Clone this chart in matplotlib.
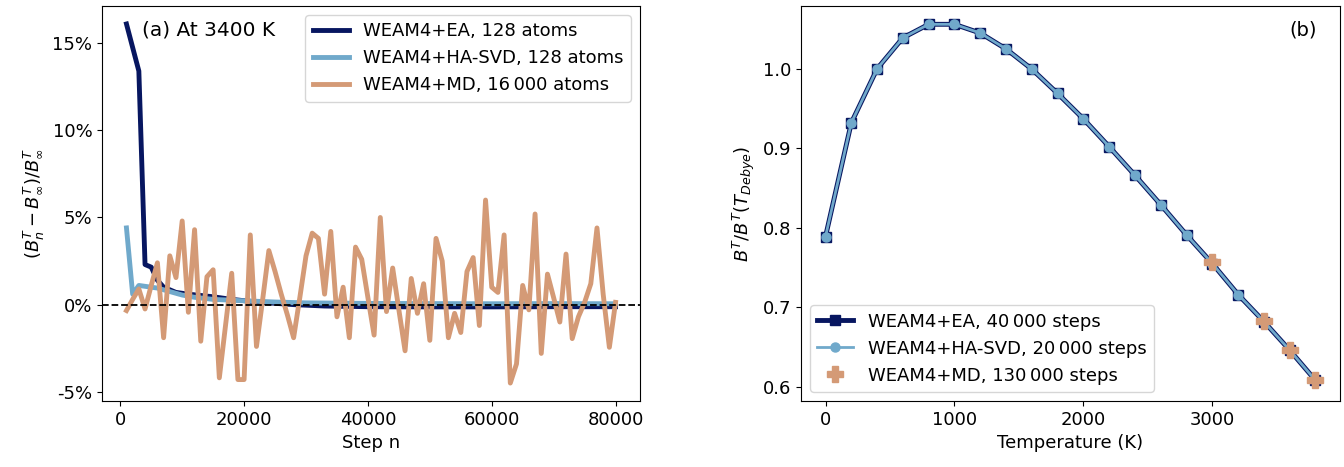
import matplotlib
matplotlib.use("Agg")
import matplotlib.pyplot as plt
import numpy as np
from matplotlib.ticker import FuncFormatter, MultipleLocator

# (a) convergence at 3400 K, values in percent
ea_steps = [1000, 3000, 4000, 5000, 6000, 7000, 9000, 11000, 15000, 18000,
            22000, 28000, 33000, 40000, 50000, 60000, 70000, 80000]
ea_err = [16.1, 13.4, 2.3, 2.15, 1.4, 1.0, 0.7, 0.6, 0.45, 0.3,
          0.15, 0.0, -0.08, -0.12, -0.13, -0.13, -0.12, -0.12]

ha_steps = [1000, 2000, 3000, 4000, 5000, 6000, 8000, 10000, 12000, 15000,
            20000, 25000, 30000, 40000, 50000, 60000, 70000, 80000]
ha_err = [4.4, 0.6, 1.1, 1.05, 1.0, 0.95, 0.75, 0.55, 0.42, 0.3,
          0.22, 0.15, 0.1, 0.07, 0.06, 0.05, 0.06, 0.05]

md_steps = list(range(1000, 81000, 1000))
md_err = [-0.34, 0.3, 0.9, -0.25, 1.1, 2.4, -1.9, 2.8, 1.55, 4.8,
          -0.44, 4.3, -2.1, 1.6, 2.0, -4.2, -1.2, 1.8, -4.3, -4.3,
          4.0, -2.4, 0.3, 3.1, 1.9, 0.6, -0.6, -1.9, 0.4, 2.8,
          4.1, 3.8, 0.6, 4.2, -0.7, 1.0, -1.9, 3.3, 2.6, 0.4,
          -1.75, 5.0, -0.4, 2.1, -0.3, -2.65, 1.5, -0.5, 1.2, -2.05,
          3.8, 2.5, -1.9, -0.5, -1.6, 1.9, 2.7, -1.2, 6.0, 1.0,
          0.7, 4.0, -4.5, -3.4, 1.1, -0.3, 5.2, -2.8, 1.75, 0.4,
          -1.0, 2.9, -1.95, -0.7, 0.13, 1.2, 4.4, 0.6, -2.45, 0.13]

# (b) normalised B^T vs temperature
temps = [0, 200, 400, 600, 800, 1000, 1200, 1400, 1600, 1800,
         2000, 2200, 2400, 2600, 2800, 3000, 3200, 3400, 3600, 3800]
b_ea = [0.789, 0.932, 1.000, 1.039, 1.056, 1.056, 1.045, 1.025, 0.9996, 0.969,
        0.937, 0.902, 0.866, 0.829, 0.791, 0.755, 0.716, 0.682, 0.646, 0.608]
b_ha = [0.789, 0.932, 1.000, 1.039, 1.056, 1.056, 1.045, 1.025, 0.9996, 0.969,
        0.937, 0.902, 0.866, 0.829, 0.791, 0.755, 0.716, 0.682, 0.646, 0.608]
md_temps = [3000, 3400, 3600, 3800]
b_md = [0.757, 0.683, 0.646, 0.609]

c_ea = '#071660'
c_ha = '#70a9cb'
c_md = '#d49a76'

plt.rcParams['font.size'] = 13

fig = plt.figure(figsize=(13.44, 4.67), dpi=100)
ax1 = fig.add_axes([0.0759, 0.1413, 0.4003, 0.8458])
ax2 = fig.add_axes([0.596, 0.1413, 0.401, 0.8458])

ax1.plot(ea_steps, ea_err, color=c_ea, lw=3.5, label='WEAM4+EA, 128 atoms')
ax1.plot(ha_steps, ha_err, color=c_ha, lw=3.5, label='WEAM4+HA-SVD, 128 atoms')
ax1.plot(md_steps, md_err, color=c_md, lw=3.5, label='WEAM4+MD, 16\u2009000 atoms')
ax1.axhline(0, color='black', ls='--', lw=1.3, zorder=5)
ax1.xaxis.set_major_locator(MultipleLocator(20000))
ax1.yaxis.set_major_formatter(FuncFormatter(lambda v, p: '%d%%' % int(round(v))))
ax1.set_xlabel('Step n')
ax1.set_ylabel(r'$(B_n^T - B_\infty^T)/B_\infty^T$')
ax1.text(0.075, 0.939, '(a) At 3400 K', transform=ax1.transAxes, va='center', ha='left',
         fontsize=14.5)
ax1.legend(loc='upper right', fontsize=13)

ax2.plot(temps, b_ea, color=c_ea, lw=3.5, marker='s', ms=7, label='WEAM4+EA, 40\u2009000 steps')
ax2.plot(temps, b_ha, color=c_ha, lw=2, marker='o', ms=6.5, label='WEAM4+HA-SVD, 20\u2009000 steps')
ax2.plot(md_temps, b_md, color=c_md, ls='none', marker='P', ms=11, label='WEAM4+MD, 130\u2009000 steps')
ax2.set_ylim(0.582, 1.079)
ax2.xaxis.set_major_locator(MultipleLocator(1000))
ax2.set_xlabel('Temperature (K)')
ax2.set_ylabel(r'$B^T/B^T(T_{Debye})$')
ax2.text(0.932, 0.939, '(b)', transform=ax2.transAxes, va='center', ha='center', fontsize=14)
ax2.legend(loc='lower left', fontsize=13)

fig.savefig('out.png', dpi=100)
